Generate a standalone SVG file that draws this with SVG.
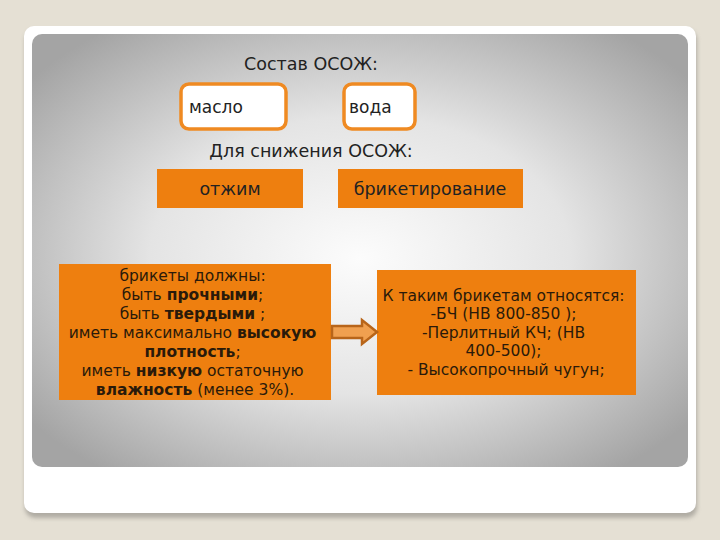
<svg xmlns="http://www.w3.org/2000/svg" width="720" height="540" viewBox="0 0 720 540">
<defs>
<radialGradient id="pg" cx="0.5" cy="0.5" r="0.64" fx="0.5" fy="0.52">
<stop offset="0" stop-color="#fcfcfc"/>
<stop offset="0.5" stop-color="#e4e4e4"/>
<stop offset="1" stop-color="#a4a4a4"/>
</radialGradient>
<filter id="sh" x="-5%" y="-5%" width="110%" height="115%">
<feGaussianBlur stdDeviation="2"/>
</filter>
<style>
text{font-family:"DejaVu Sans","Noto Sans",sans-serif;fill:#222}
.t{font-size:17.5px}
.ob{fill:#ee7f0f}
.wb{fill:#fff;stroke:#ef8a22;stroke-width:3.5}
.s{font-size:15.5px;fill:#2a1a0a}
.b{font-weight:bold}
</style>
</defs>
<rect width="720" height="540" fill="#e5e0d4"/>
<rect x="25" y="30" width="672" height="488" rx="10" fill="#8d8a84" opacity="0.6" filter="url(#sh)"/>
<rect x="24" y="26" width="672" height="487" rx="10" fill="#ffffff"/>
<rect x="32" y="34" width="656" height="433" rx="10" fill="url(#pg)"/>
<text class="t" x="311" y="70" text-anchor="middle">Состав ОСОЖ:</text>
<g id="maslo"><rect class="wb" x="181" y="84" width="105" height="45" rx="8"/><text x="189" y="113" font-size="17">масло</text></g>
<g id="voda"><rect class="wb" x="344" y="84" width="71" height="45" rx="8"/><text x="349" y="113" font-size="17">вода</text></g>
<text class="t" x="311" y="157" text-anchor="middle">Для снижения ОСОЖ:</text>
<g id="otzhim"><rect class="ob" x="157" y="169" width="146" height="39"/><text x="230" y="195" font-size="17.5" text-anchor="middle" fill="#2a1a0a">отжим</text></g>
<g id="briket"><rect class="ob" x="338" y="169" width="185" height="39"/><text x="430" y="195" font-size="17.5" text-anchor="middle" fill="#2a1a0a">брикетирование</text></g>
<g id="req"><rect class="ob" x="59" y="264" width="272" height="136"/>
<text class="s" text-anchor="middle">
<tspan x="195" y="281">брикеты должны:</tspan>
<tspan x="195" y="300">быть <tspan class="b">прочными</tspan>;</tspan>
<tspan x="195" y="319">быть <tspan class="b">твердыми</tspan> ;</tspan>
<tspan x="195" y="338">иметь максимально <tspan class="b">высокую</tspan></tspan>
<tspan x="195" y="357"><tspan class="b">плотность</tspan>;</tspan>
<tspan x="195" y="376">иметь <tspan class="b">низкую</tspan> остаточную</tspan>
<tspan x="195" y="395"><tspan class="b">влажность</tspan> (менее 3%).</tspan>
</text></g>
<g id="types"><rect class="ob" x="377" y="270" width="259" height="125"/>
<text class="s" text-anchor="middle">
<tspan x="506" y="301">К таким брикетам относятся:</tspan>
<tspan x="506" y="319">-БЧ (НВ 800-850 );</tspan>
<tspan x="506" y="338">-Перлитный КЧ; (НВ</tspan>
<tspan x="506" y="356">400-500);</tspan>
<tspan x="506" y="375">- Высокопрочный чугун;</tspan>
</text></g>
<g id="connectors">
<path d="M332 326 H362 V320 L377 332 L362 344 V338 H332 Z" fill="#f0a050" stroke="#b8651a" stroke-width="2.5" stroke-linejoin="miter"/>
</g>
</svg>
